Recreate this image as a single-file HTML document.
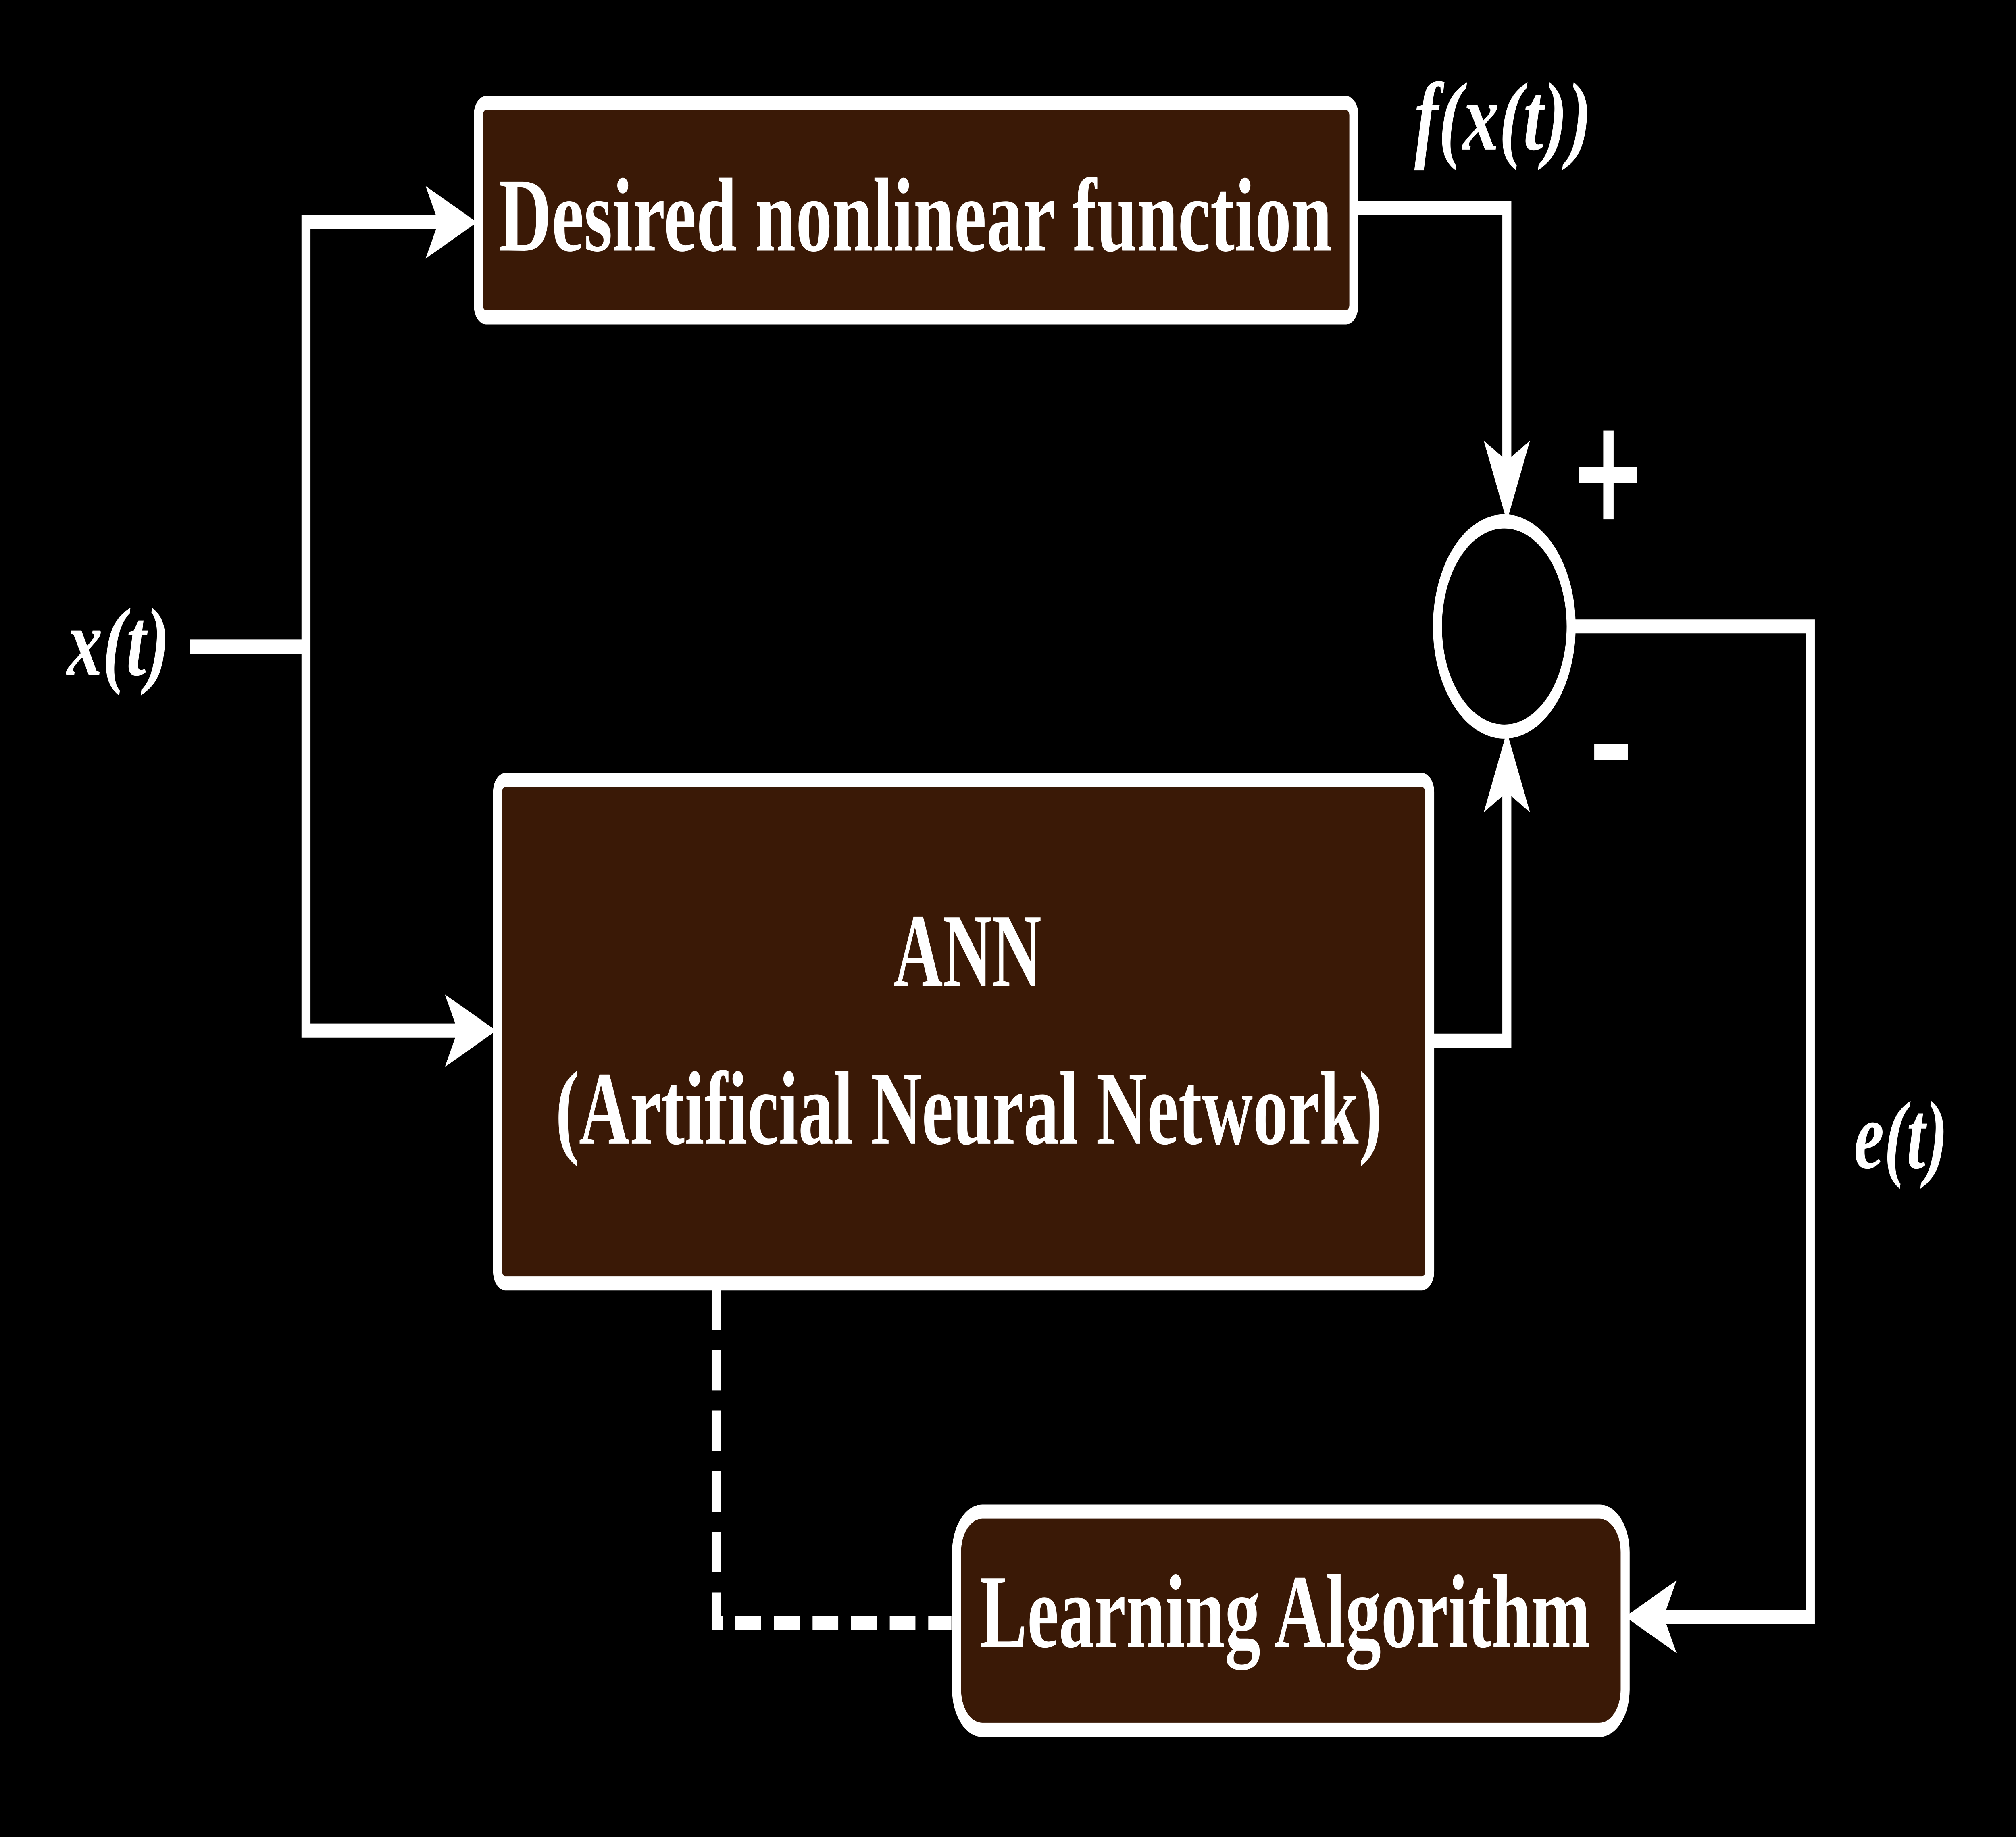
<!DOCTYPE html>
<html><head><meta charset="utf-8"><style>
html,body{margin:0;padding:0;background:#000;width:100%;height:100%;overflow:hidden;}
svg{display:block;width:100vw;height:100vh;}
</style></head><body>
<svg viewBox="0 0 1568 909" preserveAspectRatio="none" xmlns="http://www.w3.org/2000/svg">
<rect width="1568" height="909" fill="#000"/>
<g fill="#3a1906" stroke="#fff" stroke-width="7">
<rect x="372" y="51" width="681" height="106" rx="6"/>
<rect x="387" y="386" width="725" height="249" rx="6"/>
<rect x="744" y="748" width="520" height="108" rx="20"/>
</g>
<circle cx="1170" cy="310" r="52" fill="none" stroke="#fff" stroke-width="7"/>
<g fill="none" stroke="#fff" stroke-width="7">
<polyline points="148,320 238,320"/>
<polyline points="355,110 238,110 238,510 370,510"/>
<polyline points="1053,103 1172,103 1172,240"/>
<polyline points="1112,515 1172,515 1172,380"/>
<polyline points="1222,310 1408,310 1408,800 1282,800"/>
<polyline points="557,638 557,803 740,803" stroke-dasharray="20,10"/>
</g>
<g fill="#fff">
<path d="M371,110 L331,92 L341,110 L331,128 Z"/>
<path d="M386,510 L346,492 L356,510 L346,528 Z"/>
<path d="M1172,258 L1154,218 L1172,228 L1190,218 Z"/>
<path d="M1172,362 L1154,402 L1172,392 L1190,402 Z"/>
<path d="M1264,800 L1304,782 L1294,800 L1304,818 Z"/>
<rect x="1228" y="231" width="45" height="8"/>
<rect x="1247" y="213" width="8" height="44"/>
<rect x="1240" y="368" width="26" height="8"/>
</g>
<g fill="#fff" font-family="Liberation Serif, serif" font-weight="bold" lengthAdjust="spacingAndGlyphs">
<text x="388" y="124" font-size="52" textLength="648" lengthAdjust="spacingAndGlyphs">Desired nonlinear function</text>
<text x="695" y="488" font-size="52" textLength="115" lengthAdjust="spacingAndGlyphs">ANN</text>
<text x="432" y="566" font-size="52" textLength="643" lengthAdjust="spacingAndGlyphs">(Artificial Neural Network)</text>
<text x="762" y="815" font-size="52" textLength="475" lengthAdjust="spacingAndGlyphs">Learning Algorithm</text>
<g font-style="italic">
<text x="52" y="334" font-size="48" textLength="80" lengthAdjust="spacingAndGlyphs">x(t)</text>
<text x="1100" y="74" font-size="48" textLength="138" lengthAdjust="spacingAndGlyphs">f(x(t))</text>
<text x="1442" y="578" font-size="48" textLength="73" lengthAdjust="spacingAndGlyphs">e(t)</text>
</g>
</g>
</svg>
</body></html>
